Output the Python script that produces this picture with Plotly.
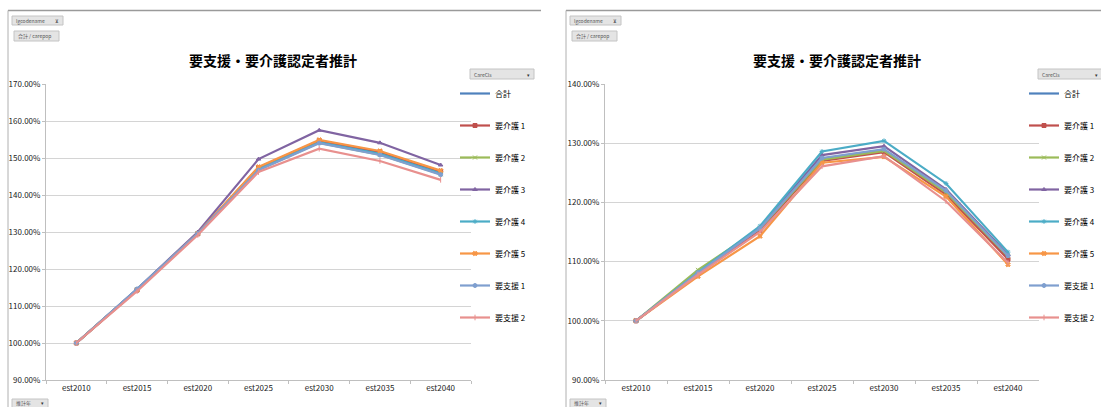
import plotly.graph_objects as go

# Estimation years on the category axis
years = ["est2010", "est2015", "est2020", "est2025", "est2030", "est2035", "est2040"]

# Care classes and their line styles
classes = ["合計", "要介護 1", "要介護 2", "要介護 3", "要介護 4", "要介護 5", "要支援 1", "要支援 2"]
colors = ["#4F81BD", "#C0504D", "#9BBB59", "#8064A2", "#4BACC6", "#F79646", "#7F9FCF", "#E8908E"]
symbols = [None, "square", "x-thin-open", "triangle-up", "asterisk-open", "x", "circle", "line-ns-open"]

# Left chart: growth ratio relative to 2010
left_total = [1.000, 1.145, 1.295, 1.474, 1.545, 1.515, 1.462]
left_care1 = [1.000, 1.143, 1.295, 1.474, 1.547, 1.517, 1.464]
left_care2 = [1.000, 1.144, 1.296, 1.468, 1.541, 1.509, 1.456]
left_care3 = [1.000, 1.146, 1.300, 1.497, 1.575, 1.541, 1.481]
left_care4 = [1.000, 1.145, 1.296, 1.470, 1.542, 1.511, 1.458]
left_care5 = [1.000, 1.144, 1.296, 1.476, 1.549, 1.519, 1.466]
left_supp1 = [1.000, 1.146, 1.296, 1.467, 1.540, 1.508, 1.455]
left_supp2 = [1.000, 1.140, 1.292, 1.462, 1.525, 1.492, 1.441]

# Right chart: growth ratio relative to 2010
right_total = [1.000, 1.080, 1.155, 1.273, 1.288, 1.218, 1.107]
right_care1 = [1.000, 1.079, 1.153, 1.270, 1.285, 1.213, 1.104]
right_care2 = [1.000, 1.086, 1.156, 1.272, 1.287, 1.217, 1.109]
right_care3 = [1.000, 1.080, 1.157, 1.280, 1.295, 1.222, 1.112]
right_care4 = [1.000, 1.082, 1.160, 1.286, 1.304, 1.232, 1.116]
right_care5 = [1.000, 1.075, 1.143, 1.267, 1.277, 1.210, 1.095]
right_supp1 = [1.000, 1.081, 1.156, 1.275, 1.290, 1.220, 1.110]
right_supp2 = [1.000, 1.078, 1.150, 1.261, 1.278, 1.202, 1.098]

left_series = [left_total, left_care1, left_care2, left_care3, left_care4, left_care5, left_supp1, left_supp2]
right_series = [right_total, right_care1, right_care2, right_care3, right_care4, right_care5, right_supp1, right_supp2]

title_text = "要支援・要介護認定者推計"
FONT = "Noto Sans CJK JP"
W, H = 1101, 407


def px(x):
    return x / W


def py(y):
    return 1 - y / H


fig = go.Figure()

for panel, series, legend_name in [(1, left_series, "legend"), (2, right_series, "legend2")]:
    xa = "x" if panel == 1 else "x2"
    ya = "y" if panel == 1 else "y2"
    for name, vals, col, sym in zip(classes, series, colors, symbols):
        fig.add_trace(go.Scatter(
            x=years, y=vals, name=name, xaxis=xa, yaxis=ya,
            mode="lines" if sym is None else "lines+markers",
            line=dict(color=col, width=2.2),
            marker=dict(symbol=sym or "circle", size=4, color=col, line=dict(color=col, width=1)),
            legend=legend_name, legendgroup=f"{panel}-{name}",
        ))

grid_col = "#D4D4D4"
axis_common = dict(
    showline=True, linecolor="#BFBFBF", linewidth=1,
    ticks="outside", ticklen=3, tickcolor="#BFBFBF",
    tickfont=dict(family=FONT, size=8, color="#222"),
    automargin=False,
)

plot_top, plot_bottom = 84, 380
legend_style = dict(xanchor="left", yanchor="top",
                    font=dict(family=FONT, size=8, color="#000"),
                    tracegroupgap=13, bgcolor="rgba(0,0,0,0)", itemwidth=30)
fig.update_layout(
    width=W, height=H,
    margin=dict(l=0, r=0, t=0, b=0, pad=0, autoexpand=False),
    paper_bgcolor="white", plot_bgcolor="white",
    font=dict(family=FONT),
    xaxis=dict(domain=[px(46), px(471)], anchor="y", type="category",
               range=[-0.5, 6.5], tickson="boundaries", showgrid=False, **axis_common),
    yaxis=dict(domain=[py(plot_bottom), py(plot_top)], anchor="x",
               range=[0.9, 1.7], dtick=0.1, tickformat=".2%",
               showgrid=True, gridcolor=grid_col, zeroline=False, **axis_common),
    xaxis2=dict(domain=[px(605), px(1039)], anchor="y2", type="category",
                range=[-0.5, 6.5], tickson="boundaries", showgrid=False, **axis_common),
    yaxis2=dict(domain=[py(plot_bottom), py(plot_top)], anchor="x2",
                range=[0.9, 1.4], dtick=0.1, tickformat=".2%",
                showgrid=True, gridcolor=grid_col, zeroline=False, **axis_common),
    legend=dict(x=px(455), y=py(79), **legend_style),
    legend2=dict(x=px(1024), y=py(79), **legend_style),
    showlegend=True,
)

shapes = []
annotations = []

# Panel frames
for x0, x1 in [(8, 541), (566, 1105)]:
    shapes.append(dict(type="line", xref="paper", yref="paper",
                       x0=px(x0), x1=px(x1), y0=py(10.5), y1=py(10.5),
                       line=dict(color="#9A9A9A", width=1.5)))
    shapes.append(dict(type="line", xref="paper", yref="paper",
                       x0=px(x0), x1=px(x0), y0=py(10.5), y1=py(410),
                       line=dict(color="#B0B0B0", width=1)))


def button(x0, y0, x1, y1, label, arrow="", text_y=None):
    ty = (y0 + y1) / 2 if text_y is None else text_y
    shapes.append(dict(type="rect", xref="paper", yref="paper",
                       x0=px(x0), x1=px(x1), y0=py(y1), y1=py(y0),
                       fillcolor="#E4E4E4", line=dict(color="#C4C4C4", width=1)))
    annotations.append(dict(xref="paper", yref="paper", x=px(x0 + 2), y=py(ty),
                            text=label, showarrow=False, xanchor="left", yanchor="middle",
                            font=dict(family=FONT, size=5, color="#555")))
    if arrow:
        annotations.append(dict(xref="paper", yref="paper", x=px(x1 - 2), y=py(ty),
                                text=arrow, showarrow=False, xanchor="right", yanchor="middle",
                                font=dict(family=FONT, size=5, color="#333")))


for off, title_x, legend_btn in [(0, 273, 470), (558, 837, 1038)]:
    button(12 + off, 16, 63 + off, 25, "lgcodename", "⊻")
    button(14 + off, 31, 59 + off, 41, "合計 / carepop")
    button(legend_btn, 69, legend_btn + 64, 79, "CareCls", "▾")
    button(12 + off, 399, 48 + off, 410, "推計年", "▾", text_y=402.5)
    annotations.append(dict(xref="paper", yref="paper", x=px(title_x), y=py(60),
                            text="<b>" + title_text + "</b>", showarrow=False,
                            xanchor="center", yanchor="middle",
                            font=dict(family=FONT, size=14, color="#000")))

fig.update_layout(shapes=shapes, annotations=annotations)

fig.write_html("out.html")
